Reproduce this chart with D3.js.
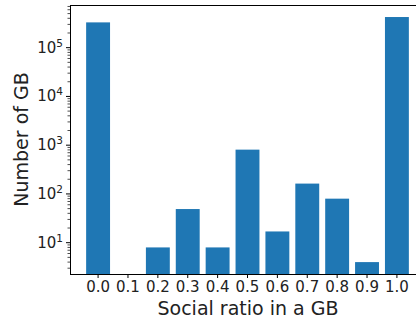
<!DOCTYPE html>
<html>
<head>
<meta charset="utf-8">
<script src="https://cdn.jsdelivr.net/npm/d3@7.9.0/dist/d3.min.js"></script>
<style>
  html, body { margin: 0; padding: 0; background: #fff; }
  svg { display: block; font-family: "DejaVu Sans", sans-serif; }
</style>
</head>
<body>
<svg id="chart" width="416" height="325"></svg>
<script>
// social ratio bins and the number of GB in each (log scale)
const ratios = [0.0, 0.1, 0.2, 0.3, 0.4, 0.5, 0.6, 0.7, 0.8, 0.9, 1.0];
const counts = [330000, 0, 8, 49, 8, 810, 17, 163, 80, 4, 425000];
const tickLabels = ['0.0', '0.1', '0.2', '0.3', '0.4', '0.5', '0.6', '0.7', '0.8', '0.9', '1.0'];
const yExponents = [1, 2, 3, 4, 5];

const data = ratios.map((r, i) => ({ ratio: r, count: counts[i], label: tickLabels[i] }));

const svg = d3.select('#chart');
const plotL = 70, plotR = 425, plotT = 5, plotB = 274;

const x = d3.scaleLinear().domain([-0.094, 1.094]).range([plotL, plotR]);
const y = d3.scaleLog().domain([2.28, 7.5e5]).range([plotB, plotT]);
const barW = x(0.08) - x(0);

// bars
svg.append('g')
  .selectAll('rect')
  .data(data.filter((d) => d.count > 0))
  .join('rect')
  .attr('x', (d) => x(d.ratio) - barW / 2)
  .attr('width', barW)
  .attr('y', (d) => y(d.count))
  .attr('height', (d) => plotB - y(d.count))
  .attr('fill', '#1f77b4');

// spines
const spine = (x1, y1, x2, y2) => svg.append('line')
  .attr('x1', x1).attr('y1', y1).attr('x2', x2).attr('y2', y2)
  .attr('stroke', '#000').attr('stroke-width', 1).attr('shape-rendering', 'crispEdges');
spine(plotL, plotT, plotL, plotB);
spine(plotL, plotB, plotR, plotB);
spine(plotL, plotT, plotR, plotT);

// x ticks
const xt = svg.append('g');
xt.selectAll('line')
  .data(data)
  .join('line')
  .attr('x1', (d) => x(d.ratio)).attr('x2', (d) => x(d.ratio))
  .attr('y1', plotB).attr('y2', plotB + 4)
  .attr('stroke', '#000');
xt.selectAll('text')
  .data(data)
  .join('text')
  .attr('x', (d) => x(d.ratio))
  .attr('y', plotB + 18)
  .attr('text-anchor', 'middle')
  .attr('font-size', 15)
  .attr('fill', '#222')
  .text((d) => d.label);

// y ticks (major decades + minor)
const majors = yExponents.map((e) => Math.pow(10, e));
const minors = y.ticks().filter((v) => !majors.some((m) => Math.abs(m - v) < 1e-9));
const yt = svg.append('g');
yt.selectAll('line.minor')
  .data(minors)
  .join('line')
  .attr('class', 'minor')
  .attr('x1', plotL - 2.5).attr('x2', plotL)
  .attr('y1', (d) => y(d)).attr('y2', (d) => y(d))
  .attr('stroke', '#000').attr('stroke-width', 0.7);
yt.selectAll('line.major')
  .data(majors)
  .join('line')
  .attr('class', 'major')
  .attr('x1', plotL - 4).attr('x2', plotL)
  .attr('y1', (d) => y(d)).attr('y2', (d) => y(d))
  .attr('stroke', '#000');
const lab = yt.selectAll('text')
  .data(yExponents)
  .join('text')
  .attr('x', plotL - 7)
  .attr('y', (d) => y(Math.pow(10, d)) + 5)
  .attr('text-anchor', 'end')
  .attr('font-size', 15)
  .attr('fill', '#222');
lab.append('tspan').text('10');
lab.append('tspan')
  .attr('dy', -6)
  .attr('font-size', 10.5)
  .text((d) => d);

// axis titles
svg.append('text')
  .attr('x', 248)
  .attr('y', 315)
  .attr('text-anchor', 'middle')
  .attr('font-size', 19)
  .attr('fill', '#222')
  .text('Social ratio in a GB');

svg.append('text')
  .attr('transform', `translate(28, ${(plotT + plotB) / 2}) rotate(-90)`)
  .attr('text-anchor', 'middle')
  .attr('font-size', 19)
  .attr('fill', '#222')
  .text('Number of GB');
</script>
</body>
</html>
